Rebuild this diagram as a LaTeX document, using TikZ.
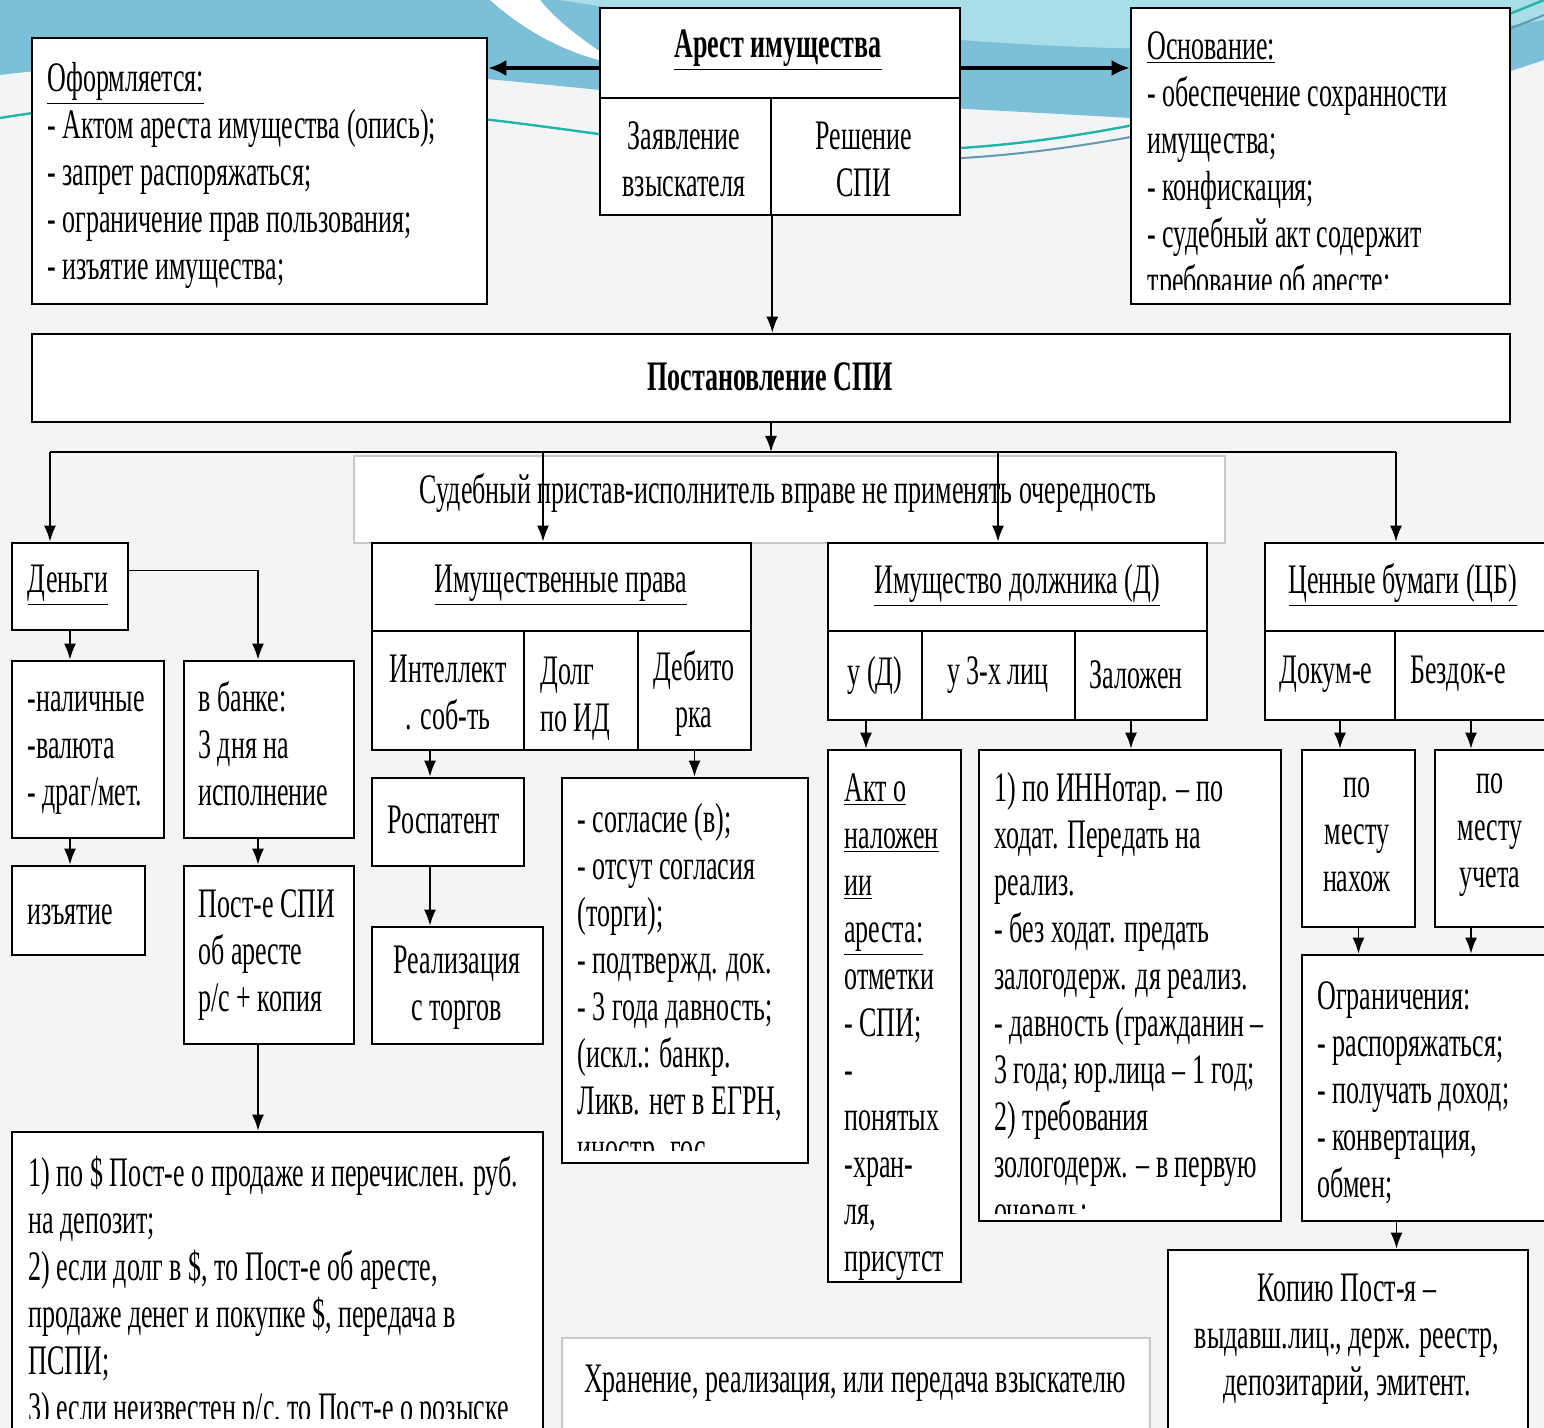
\documentclass[tikz,border=0pt]{standalone}
\usepackage{fontspec}
\setmainfont{Liberation Serif}[FakeStretch=0.62]
\usetikzlibrary{arrows.meta,fit,calc}
\definecolor{bgc}{HTML}{F2F4F6}
\definecolor{wave}{HTML}{7CBFD9}
\definecolor{wavelt}{HTML}{A9DDE8}
\definecolor{tealline}{HTML}{1FB5A8}
\definecolor{greyline}{HTML}{C8C8C8}

\begin{document}
\begin{tikzpicture}[x=0.5pt, y=-0.5pt]
\tikzset{every node/.style={font=\fontsize{21}{23.5}\selectfont}}
\tikzset{box/.style={draw=black, line width=1.3pt, fill=white, inner sep=0pt}}
\tikzset{softbox/.style={draw=greyline, line width=0.6pt, fill=white, inner sep=0pt}}
\tikzset{txt/.style={anchor=north west, inner sep=0pt, align=left}}
\tikzset{ctxt/.style={inner sep=0pt, align=center}}
\tikzset{arr/.style={-{Latex[length=8pt,width=6pt]}, line width=0.9pt}}
\tikzset{bigarr/.style={-{Latex[length=9pt,width=8pt]}, line width=1.6pt}}

\newcommand{\bx}[5]{\node[box, fit={(#2,#3) (#4,#5)}] (#1) {};}

\useasboundingbox (0,0) rectangle (1544,1428);
% slide background
\fill[bgc] (0,0) rectangle (1544,1428);
\fill[wave] (0,0) -- (1544,0) -- (1544,60) .. controls (1400,110) and (1250,125) .. (1131,118)
  .. controls (900,105) and (700,95) .. (600,90) .. controls (400,70) and (200,50) .. (0,75) -- cycle;
\fill[wavelt] (560,0) -- (1544,0) -- (1544,20) .. controls (1300,60) and (1100,50) .. (960,40)
  .. controls (800,30) and (650,15) .. (560,0) -- cycle;
\fill[white] (490,0) .. controls (530,35) and (570,55) .. (620,65) .. controls (590,45) and (560,25) .. (540,0) -- cycle;
\draw[tealline, line width=1.2pt] (0,118) .. controls (200,85) and (400,105) .. (640,140);
\draw[tealline, line width=1.2pt] (900,150) .. controls (1100,150) and (1350,80) .. (1544,0);
\draw[wave!80!black, line width=1pt] (900,160) .. controls (1100,160) and (1350,95) .. (1544,15);

% top part
\bx{oform}{32}{38}{487}{304}
\bx{osn}{1131}{8}{1510}{304}
\bx{arhead}{600}{8}{960}{98}
\bx{arzav}{600}{98}{771}{215}
\bx{arresh}{771}{98}{960}{215}
\bx{post}{32}{334}{1510}{422}
\node[softbox, fit={(354,456) (1225,543)}] (ochered) {};

\node[txt] (toform) at (47,58) {\strut\underline{Оформляется:}\\- Актом ареста имущества (опись);\\- запрет распоряжаться;\\- ограничение прав пользования;\\- изъятие имущества;};
\begin{scope}
\clip (1131,8) rectangle (1510,290);
\node[txt] (tosn) at (1147,26) {\strut\underline{Основание:}\\- обеспечение сохранности\\имущества;\\- конфискация;\\- судебный акт содержит\\требование об аресте;};
\end{scope}
\node[ctxt] (tarest) at (778,50) {\bfseries\underline{Арест имущества}};
\node[ctxt] (tzav) at (684,159) {Заявление\\взыскателя};
\node[ctxt] (tresh) at (864,159) {Решение\\СПИ};
\node[ctxt] (tpost) at (770,377) {\bfseries Постановление СПИ};
\node[ctxt] (toch) at (788,493) {Судебный пристав-исполнитель вправе не применять очередность};

% money
\bx{den}{12}{543}{128}{630}
\bx{nal}{12}{661}{164}{838}
\bx{izy}{12}{866}{145}{955}
\bx{bank}{184}{661}{354}{838}
\bx{postspi}{184}{866}{354}{1044}
\bx{dollar}{12}{1132}{543}{1445}
\node[ctxt] (tden) at (68,585) {\underline{Деньги}};
\node[txt] (tnal) at (27,678) {\strut -наличные\\-валюта\\- драг/мет.};
\node[txt] (tizy) at (27,891) {\strut изъятие};
\node[txt] (tbank) at (198,678) {\strut в банке:\\3 дня на\\исполнение};
\node[txt] (tpostspi) at (198,884) {\strut Пост-е СПИ\\об аресте\\р/с + копия};
\begin{scope}
\clip (12,1132) rectangle (543,1418);
\node[txt] (tdollar) at (28,1153) {\strut 1) по \$ Пост-е о продаже и перечислен. руб.\\на депозит;\\2) если долг в \$, то Пост-е об аресте,\\продаже денег и покупке \$, передача в\\ПСПИ;\\3) если неизвестен р/с, то Пост-е о розыске};
\end{scope}

% property rights
\bx{imp}{372}{543}{751}{631}
\bx{intel}{372}{631}{524}{750}
\bx{dolg}{524}{631}{638}{750}
\bx{deb}{638}{631}{751}{750}
\bx{rospat}{372}{778}{524}{866}
\bx{real}{372}{927}{543}{1044}
\bx{soglas}{562}{778}{808}{1163}
\node[ctxt] (timp) at (561,585) {\underline{Имущественные права}};
\node[ctxt] (tintel) at (448,693) {Интеллект\\. соб-ть};
\node[txt] (tdolg) at (540,651) {\strut Долг\\по ИД};
\node[ctxt] (tdeb) at (694,693) {Дебито\\рка};
\node[ctxt] (trospat) at (444,820) {Роспатент};
\node[ctxt] (treal) at (457,988) {Реализация\\с торгов};
\begin{scope}
\clip (562,778) rectangle (808,1150);
\node[txt] (tsoglas) at (577,799) {\strut - согласие (в);\\- отсут согласия\\(торги);\\- подтвержд. док.\\- 3 года давность;\\(искл.: банкр.\\Ликв. нет в ЕГРН,\\иностр. гос.};
\end{scope}

% debtor property
\bx{imd}{828}{543}{1207}{631}
\bx{ud}{828}{631}{922}{720}
\bx{utri}{922}{631}{1075}{720}
\bx{zal}{1075}{631}{1207}{720}
\bx{akt}{828}{750}{961}{1282}
\bx{zalog}{979}{750}{1281}{1221}
\node[ctxt] (timd) at (1017,585) {\underline{Имущество должника (Д)}};
\node[ctxt] (tud) at (875,675) {у (Д)};
\node[ctxt] (tutri) at (998,675) {у 3-х лиц};
\node[ctxt] (tzal) at (1136,675) {Заложен};
\node[txt] (takt) at (844,768) {\strut\underline{Акт о}\\\underline{наложен}\\\underline{ии}\\\underline{ареста:}\\отметки\\- СПИ;\\-\\понятых\\-хран-\\ля,\\присутст};
\begin{scope}
\clip (979,750) rectangle (1281,1213);
\node[txt] (tzalog) at (994,768) {\strut 1) по ИННотар. – по\\ходат. Передать на\\реализ.\\- без ходат. предать\\залогодерж. дя реализ.\\- давность (гражданин –\\3 года; юр.лица – 1 год;\\2) требования\\зологодерж. – в первую\\очередь;};
\end{scope}

% securities
\bx{cb}{1265}{543}{1555}{631}
\bx{dok}{1265}{631}{1395}{720}
\bx{bezdok}{1395}{631}{1555}{720}
\bx{nahoz}{1302}{750}{1415}{927}
\bx{uchet}{1435}{750}{1555}{927}
\bx{ogr}{1302}{955}{1555}{1221}
\bx{kopiya}{1168}{1250}{1528}{1445}
\node[softbox, fit={(562,1338) (1150,1445)}] (hran) {};
\node[ctxt] (tcb) at (1403,585) {\underline{Ценные бумаги (ЦБ)}};
\node[ctxt] (tdok) at (1326,674) {Докум-е};
\node[ctxt] (tbezdok) at (1458,674) {Бездок-е};
\node[ctxt] (tnahoz) at (1357,835) {по\\месту\\нахож};
\node[ctxt] (tuchet) at (1490,835) {по\\месту\\учета};
\node[txt] (togr) at (1317,976) {\strut Ограничения:\\- распоряжаться;\\- получать доход;\\- конвертация,\\обмен;};
\node[ctxt] (tkopiya) at (1347,1339) {Копию Пост-я –\\выдавш.лиц., держ. реестр,\\депозитарий, эмитент.};
\node[ctxt] (thran) at (855,1383) {Хранение, реализация, или передача взыскателю};

% connectors
\coordinate (arL) at ([shift={(0,15)}]arhead.west);
\coordinate (arR) at ([shift={(0,15)}]arhead.east);
\draw[bigarr] (arL) -- (arL -| oform.east);
\draw[bigarr] (arR) -- (arR -| osn.west);
\draw[arr] (arzav.south east) -- (arzav.south east |- post.north);
\coordinate (bus) at (771,452);
\draw[arr] (post.south) -- (bus);
\coordinate (dDen) at (50,452);
\coordinate (dImp) at (543,452);
\coordinate (dImd) at (998,452);
\coordinate (dCb) at (1396,452);
\draw[line width=1.1pt] (dDen) -- (dCb);
\draw[arr] (dDen) -- (dDen |- den.north);
\draw[arr] (dImp) -- (dImp |- imp.north);
\draw[arr] (dImd) -- (dImd |- imd.north);
\draw[arr] (dCb) -- (dCb |- cb.north);

\draw[arr] (den.south) -- (den.south |- nal.north);
\draw[arr] (den.south |- nal.south) -- (den.south |- izy.north);
\coordinate (dBank) at ([shift={(-11,0)}]bank.north);
\draw[arr] ([shift={(0,-16)}]den.east) -| (dBank);
\draw[arr] (dBank |- bank.south) -- (dBank |- postspi.north);
\draw[arr] (dBank |- postspi.south) -- (dBank |- dollar.north);

\coordinate (dRos) at ([shift={(-18,0)}]intel.south);
\draw[arr] (dRos) -- (dRos |- rospat.north);
\draw[arr] (dRos |- rospat.south) -- (dRos |- real.north);
\draw[arr] (deb.south) -- (deb.south |- soglas.north);

\coordinate (dAkt) at ([shift={(-9,0)}]ud.south);
\draw[arr] (dAkt) -- (dAkt |- akt.north);
\coordinate (dZalog) at ([shift={(-10,0)}]zal.south);
\draw[arr] (dZalog) -- (dZalog |- zalog.north);

\coordinate (dNahoz) at ([shift={(10,0)}]dok.south);
\draw[arr] (dNahoz) -- (dNahoz |- nahoz.north);
\coordinate (dUchet) at ([shift={(-4,0)}]bezdok.south);
\draw[arr] (dUchet) -- (dUchet |- uchet.north);
\draw[arr] (nahoz.south) -- (nahoz.south |- ogr.north);
\draw[arr] (dUchet |- uchet.south) -- (dUchet |- ogr.north);
\coordinate (dKop) at ([shift={(-32,0)}]ogr.south);
\draw[arr] (dKop) -- (dKop |- kopiya.north);
\end{tikzpicture}
\end{document}
